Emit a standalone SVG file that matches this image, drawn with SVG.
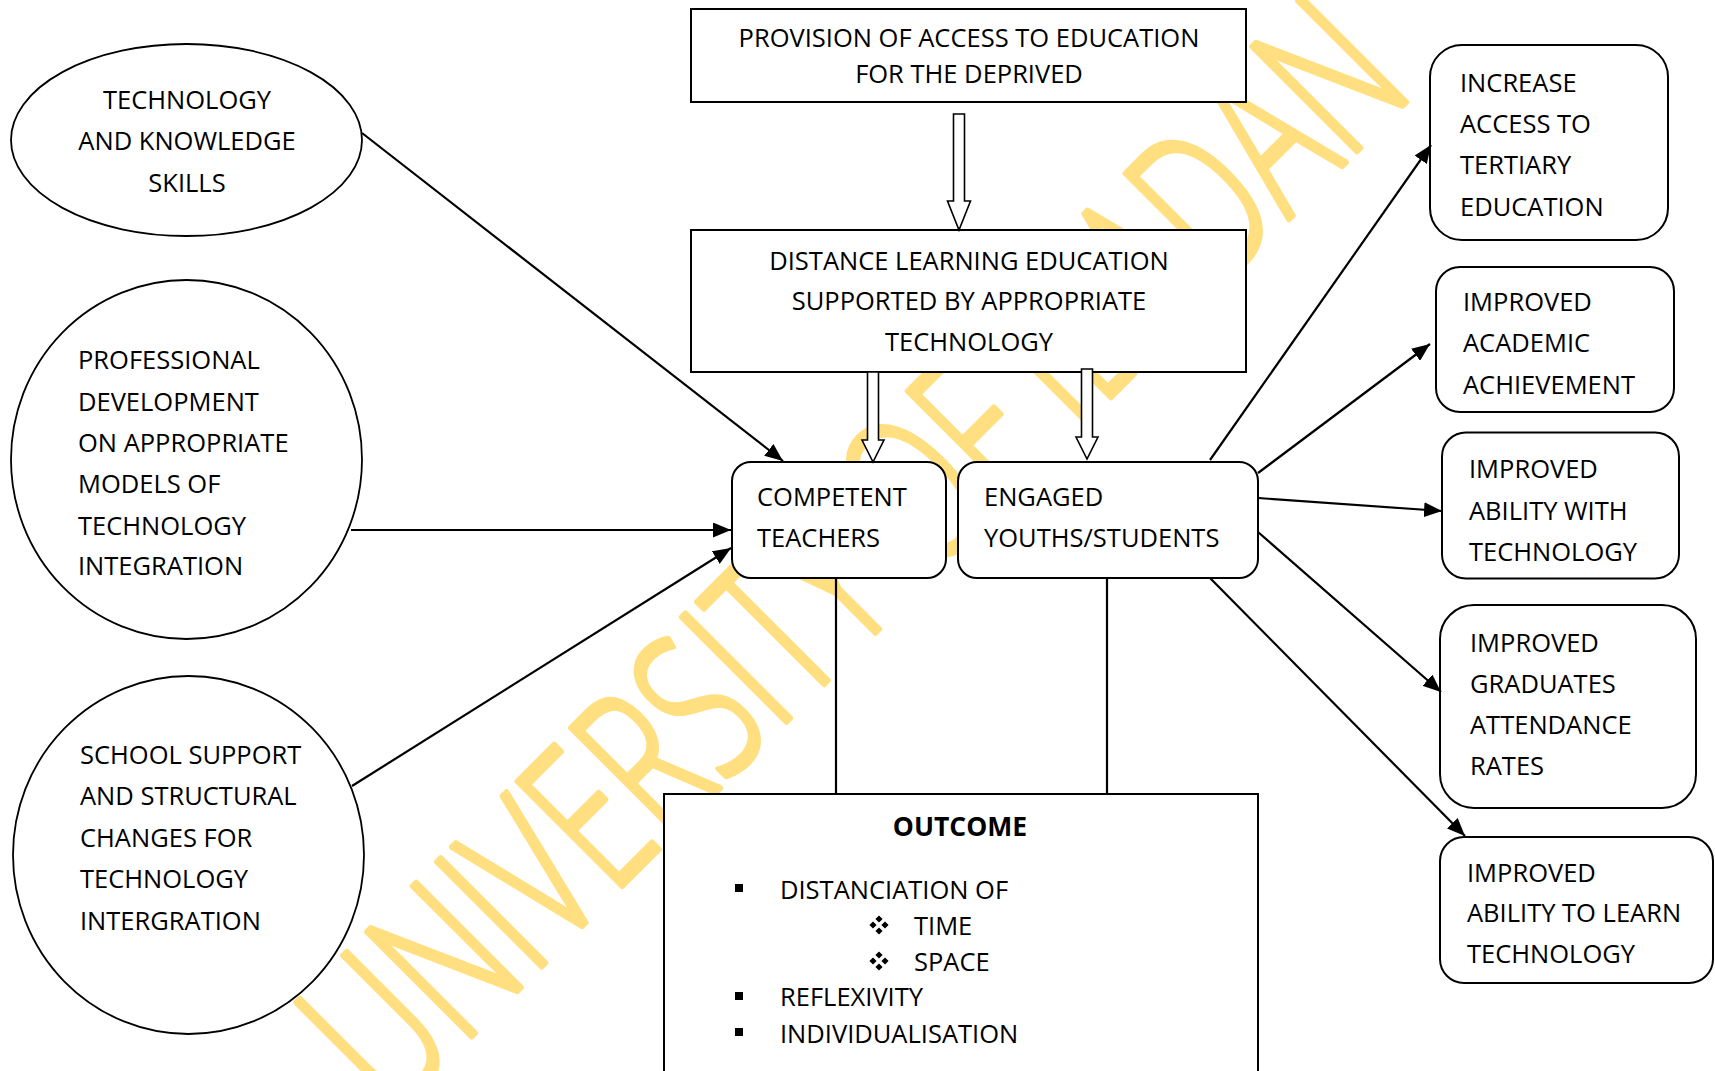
<svg xmlns="http://www.w3.org/2000/svg" width="1715" height="1071" viewBox="0 0 1715 1071">
  <defs>
    <style>
      .t { font-family: "Open Sans", "Liberation Sans", sans-serif; font-size: 25.5px; font-weight: 500; fill: #000; }
      .c { text-anchor: middle; }
      .b { font-weight: bold; font-size: 26.5px; }
      .box { fill: #fff; stroke: #000; stroke-width: 2; }
      .ell { fill: #fff; stroke: #000; stroke-width: 1.8; }
      .ln { stroke: #000; stroke-width: 2.2; fill: none; }
      .arr { marker-end: url(#head); }
      .hollow { fill: #fff; stroke: #000; stroke-width: 1.6; }
      .wm { font-family: "Open Sans", "Liberation Sans", sans-serif; font-weight: 300; font-size: 207px;
            fill: #FFDF80; stroke: #FFDF80; stroke-width: 6; stroke-linejoin: round; }
    </style>
    <marker id="head" viewBox="0 0 18 15" refX="18" refY="7.5" markerWidth="18" markerHeight="15"
            markerUnits="userSpaceOnUse" orient="auto">
      <path d="M0,0 L18,7.5 L0,15 Z" fill="#000"/>
    </marker>
    <g id="dia">
      <path d="M0,-9.6 L3.6,-6 L0,-2.4 L-3.6,-6 Z M6,-3.6 L9.6,0 L6,3.6 L2.4,0 Z M0,2.4 L3.6,6 L0,9.6 L-3.6,6 Z M-6,-3.6 L-2.4,0 L-6,3.6 L-9.6,0 Z" fill="#000"/>
    </g>
  </defs>

  <rect width="1715" height="1071" fill="#fff"/>

  <!-- background watermark -->
  <text class="wm" transform="translate(904,604) rotate(-45)" x="-725" y="0" textLength="1450" lengthAdjust="spacingAndGlyphs">UNIVERSITY OF IBADAN</text>

  <!-- input ellipses -->
  <g id="tech-knowledge">
    <ellipse class="ell" cx="186.5" cy="140" rx="175.5" ry="96"/>
    <text class="t c" x="187" y="108.5">TECHNOLOGY</text>
    <text class="t c" x="187" y="150">AND KNOWLEDGE</text>
    <text class="t c" x="187" y="191.5">SKILLS</text>
  </g>

  <g id="professional-development">
    <ellipse class="ell" cx="186.5" cy="459.5" rx="175.5" ry="179.5"/>
    <text class="t" x="78" y="368.5">PROFESSIONAL</text>
    <text class="t" x="78" y="410.5">DEVELOPMENT</text>
    <text class="t" x="78" y="451.5">ON APPROPRIATE</text>
    <text class="t" x="78" y="493">MODELS OF</text>
    <text class="t" x="78" y="534.5">TECHNOLOGY</text>
    <text class="t" x="78" y="575">INTEGRATION</text>
  </g>

  <g id="school-support">
    <ellipse class="ell" cx="188.5" cy="855" rx="175.5" ry="179"/>
    <text class="t" x="80" y="764">SCHOOL SUPPORT</text>
    <text class="t" x="80" y="805">AND STRUCTURAL</text>
    <text class="t" x="80" y="847">CHANGES FOR</text>
    <text class="t" x="80" y="888">TECHNOLOGY</text>
    <text class="t" x="80" y="930">INTERGRATION</text>
  </g>

  <!-- central column -->
  <g id="provision">
    <rect class="box" x="691" y="9" width="555" height="93"/>
    <text class="t c" x="969" y="47">PROVISION OF ACCESS TO EDUCATION</text>
    <text class="t c" x="969" y="83">FOR THE DEPRIVED</text>
  </g>

  <g id="distance-learning">
    <rect class="box" x="691" y="230" width="555" height="142"/>
    <text class="t c" x="969" y="269.5">DISTANCE LEARNING EDUCATION</text>
    <text class="t c" x="969" y="310">SUPPORTED BY APPROPRIATE</text>
    <text class="t c" x="969" y="351">TECHNOLOGY</text>
  </g>

  <g id="competent-teachers">
    <rect class="box" x="732" y="462" width="214" height="116" rx="19" ry="19"/>
    <text class="t" x="757" y="505.5">COMPETENT</text>
    <text class="t" x="757" y="546.5">TEACHERS</text>
  </g>

  <g id="engaged-students">
    <rect class="box" x="958" y="462" width="300" height="116" rx="19" ry="19"/>
    <text class="t" x="984" y="505.5">ENGAGED</text>
    <text class="t" x="984" y="546.5">YOUTHS/STUDENTS</text>
  </g>

  <g id="outcome">
    <rect class="box" x="664" y="794" width="594" height="290"/>
    <text class="t c b" x="960" y="836">OUTCOME</text>
    <rect x="735" y="884" width="8" height="8" fill="#000"/>
    <text class="t" x="780" y="899">DISTANCIATION OF</text>
    <use href="#dia" x="879" y="925"/>
    <text class="t" x="914" y="935">TIME</text>
    <use href="#dia" x="879" y="961"/>
    <text class="t" x="914" y="971">SPACE</text>
    <rect x="735" y="992" width="8" height="8" fill="#000"/>
    <text class="t" x="780" y="1006">REFLEXIVITY</text>
    <rect x="735" y="1028" width="8" height="8" fill="#000"/>
    <text class="t" x="780" y="1042.5">INDIVIDUALISATION</text>
  </g>

  <!-- results column -->
  <g id="tertiary-access">
    <rect class="box" x="1430" y="45" width="238" height="195" rx="32" ry="32"/>
    <text class="t" x="1460" y="92">INCREASE</text>
    <text class="t" x="1460" y="132.5">ACCESS TO</text>
    <text class="t" x="1460" y="174">TERTIARY</text>
    <text class="t" x="1460" y="215.5">EDUCATION</text>
  </g>

  <g id="academic-achievement">
    <rect class="box" x="1436" y="267" width="238" height="145" rx="24" ry="24"/>
    <text class="t" x="1463" y="311">IMPROVED</text>
    <text class="t" x="1463" y="352">ACADEMIC</text>
    <text class="t" x="1463" y="393.5">ACHIEVEMENT</text>
  </g>

  <g id="ability-with-technology">
    <rect class="box" x="1442" y="432.5" width="237" height="146" rx="24" ry="24"/>
    <text class="t" x="1469" y="477.5">IMPROVED</text>
    <text class="t" x="1469" y="519.5">ABILITY WITH</text>
    <text class="t" x="1469" y="560.5">TECHNOLOGY</text>
  </g>

  <g id="attendance-rates">
    <rect class="box" x="1440" y="605" width="256" height="203" rx="34" ry="34"/>
    <text class="t" x="1470" y="652">IMPROVED</text>
    <text class="t" x="1470" y="693">GRADUATES</text>
    <text class="t" x="1470" y="734">ATTENDANCE</text>
    <text class="t" x="1470" y="775">RATES</text>
  </g>

  <g id="ability-to-learn">
    <rect class="box" x="1440" y="837" width="273" height="146" rx="24" ry="24"/>
    <text class="t" x="1467" y="881.5">IMPROVED</text>
    <text class="t" x="1467" y="922">ABILITY TO LEARN</text>
    <text class="t" x="1467" y="963">TECHNOLOGY</text>
  </g>

  <!-- connectors -->
  <g id="connectors">
    <polygon class="hollow" points="953.5,114 964.5,114 964.5,201 970.5,201 959,230 947.5,201 953.5,201"/>
    <polygon class="hollow" points="867.5,372 878.5,372 878.5,440 884,440 873,462 862,440 867.5,440"/>
    <polygon class="hollow" points="1081.5,369 1092.5,369 1092.5,437 1098,437 1087,459 1076,437 1081.5,437"/>

    <line class="ln arr" x1="362" y1="133" x2="783" y2="461"/>
    <line class="ln arr" x1="351" y1="530" x2="731" y2="530"/>
    <line class="ln arr" x1="352" y1="786" x2="731" y2="548"/>

    <line class="ln arr" x1="1210" y1="460" x2="1431" y2="145"/>
    <line class="ln arr" x1="1258" y1="473" x2="1430" y2="344"/>
    <line class="ln arr" x1="1258" y1="498" x2="1442" y2="511"/>
    <line class="ln arr" x1="1258" y1="532" x2="1441" y2="692"/>
    <line class="ln arr" x1="1210" y1="578" x2="1465" y2="836"/>

    <line class="ln" x1="836" y1="578" x2="836" y2="794"/>
    <line class="ln" x1="1107" y1="578" x2="1107" y2="794"/>
  </g>
</svg>
